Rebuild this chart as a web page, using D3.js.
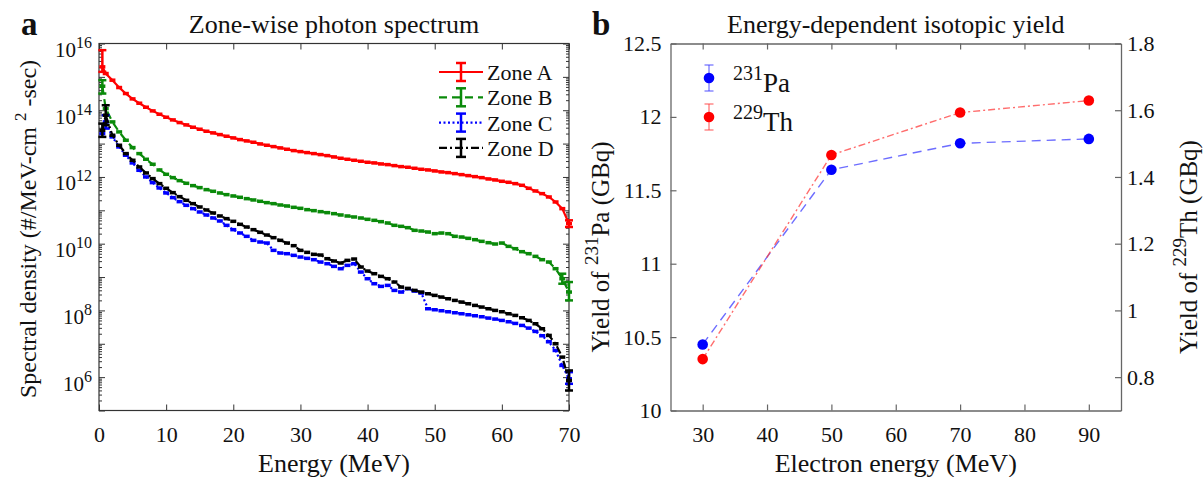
<!DOCTYPE html>
<html>
<head>
<meta charset="utf-8">
<script src="https://cdn.jsdelivr.net/npm/d3@7"></script>
<style>
  body { margin: 0; background: #fff; }
  svg text, svg tspan { font-family: "Liberation Serif", "Tinos", "Times New Roman", Times, "DejaVu Serif", serif !important; fill: #111; }
</style>
</head>
<body>
<div id="chart"></div>
<script>
/* ---------- data: panel a (log10 of spectral density) ---------- */
const energies = [0.5, 1, 2, 3, 4, 5, 6, 7, 8, 9, 10,
  11, 12, 13, 14, 15, 16, 17, 18, 19, 20,
  21, 22, 23, 24, 25, 26, 27, 28, 29, 30,
  31, 32, 33, 34, 35, 36, 37, 38, 39, 40,
  41, 42, 43, 44, 45, 46, 47, 48, 49, 50,
  51, 52, 53, 54, 55, 56, 57, 58, 59, 60,
  61, 62, 63, 64, 65, 66, 67, 68, 69, 70];

const zoneALog = [15.30, 15.10, 14.90, 14.68, 14.50, 14.34, 14.21, 14.09, 13.98, 13.88, 13.79,
  13.71, 13.63, 13.56, 13.49, 13.43, 13.37, 13.32, 13.27, 13.22, 13.17,
  13.12, 13.08, 13.04, 12.99, 12.95, 12.91, 12.87, 12.83, 12.79, 12.76,
  12.73, 12.70, 12.67, 12.64, 12.60, 12.56, 12.53, 12.50, 12.47, 12.44,
  12.42, 12.39, 12.37, 12.34, 12.31, 12.29, 12.26, 12.23, 12.21, 12.18,
  12.15, 12.13, 12.10, 12.07, 12.04, 12.01, 11.98, 11.94, 11.91, 11.87,
  11.84, 11.80, 11.75, 11.66, 11.58, 11.50, 11.40, 11.25, 11.05, 10.60];

const zoneBLog = [14.72, 14.05, 13.65, 13.35, 13.10, 12.88, 12.70, 12.53, 12.38, 12.21, 12.08,
  11.98, 11.89, 11.81, 11.74, 11.68, 11.62, 11.57, 11.52, 11.47, 11.43,
  11.39, 11.35, 11.31, 11.27, 11.23, 11.20, 11.16, 11.13, 11.09, 11.06,
  11.02, 10.99, 10.96, 10.93, 10.90, 10.86, 10.83, 10.80, 10.77, 10.73,
  10.70, 10.66, 10.62, 10.55, 10.52, 10.48, 10.40, 10.38, 10.35, 10.30,
  10.32, 10.30, 10.22, 10.20, 10.16, 10.12, 10.07, 10.03, 9.99, 10.02,
  9.92, 9.85, 9.76, 9.70, 9.62, 9.52, 9.45, 9.25, 8.95, 8.55];

const zoneCLog = [13.30, 13.65, 13.20, 12.90, 12.65, 12.42, 12.20, 12.00, 11.83, 11.67, 11.52,
  11.38, 11.26, 11.15, 11.05, 10.95, 10.86, 10.77, 10.68, 10.55, 10.42,
  10.32, 10.22, 10.10, 10.05, 10.02, 9.80, 9.72, 9.70, 9.65, 9.60,
  9.56, 9.52, 9.45, 9.40, 9.32, 9.25, 9.35, 9.40, 9.15, 8.95,
  8.80, 8.72, 8.75, 8.60, 8.55, 8.65, 8.58, 8.52, 8.05, 8.02,
  7.99, 7.96, 7.93, 7.90, 7.87, 7.84, 7.81, 7.77, 7.74, 7.70,
  7.66, 7.61, 7.55, 7.47, 7.37, 7.24, 7.06, 6.80, 6.35, 5.95];

const zoneDLog = [13.40, 13.85, 13.25, 12.95, 12.70, 12.50, 12.30, 12.12, 11.95, 11.80, 11.66,
  11.53, 11.41, 11.30, 11.20, 11.10, 11.01, 10.92, 10.83, 10.75, 10.67,
  10.58, 10.50, 10.42, 10.34, 10.26, 10.18, 10.10, 10.02, 9.94, 9.80,
  9.74, 9.68, 9.66, 9.55, 9.48, 9.42, 9.50, 9.54, 9.30, 9.18,
  9.10, 9.02, 8.95, 8.85, 8.70, 8.66, 8.60, 8.55, 8.50, 8.45,
  8.40, 8.35, 8.30, 8.25, 8.20, 8.15, 8.10, 8.05, 8.00, 7.96,
  7.90, 7.85, 7.78, 7.70, 7.60, 7.45, 7.25, 7.00, 6.60, 5.90];

// the few error bars that are visibly long: [energy, low log10, high log10]
const zoneAErr = [[0.5, 15.15, 15.80], [70, 10.50, 10.70]];
const zoneBErr = [[0.5, 14.50, 14.90], [69, 8.80, 9.10], [70, 8.30, 8.85]];
const zoneCErr = [[1, 13.45, 13.85], [70, 5.80, 6.15]];
const zoneDErr = [[0.5, 13.20, 13.60], [1, 13.55, 14.15], [70, 5.60, 6.20]];

const zoneNames = ["Zone A", "Zone B", "Zone C", "Zone D"];
const energyTicks = [0, 10, 20, 30, 40, 50, 60, 70];
const densityTickExps = [6, 8, 10, 12, 14, 16];

/* ---------- data: panel b ---------- */
const electronEnergy = [30, 50, 70, 90];
const paYield = [10.45, 11.64, 11.82, 11.85];
const paErr = [0.02, 0.02, 0.02, 0.02];
const thYield = [0.854, 1.466, 1.593, 1.629];
const thErr = [0.008, 0.008, 0.008, 0.008];
const paTicks = [10, 10.5, 11, 11.5, 12, 12.5];
const thTicks = [0.8, 1, 1.2, 1.4, 1.6, 1.8];
const electronTicks = [30, 40, 50, 60, 70, 80, 90];

/* ---------- svg ---------- */
const width = 1203, height = 477;
const serif = '"Liberation Serif", "Tinos", "Times New Roman", Times, "DejaVu Serif", serif';
const svg = d3.select("#chart").append("svg")
  .attr("width", width)
  .attr("height", height)
  .attr("font-family", serif);

const pa = { left: 99, right: 569, top: 43.5, bottom: 410.5 };
const pb = { left: 670.5, right: 1121, top: 43.5, bottom: 410.5 };

// text with superscript pieces: [[str, isSup], ...]
function richText(sel, parts, size, supSize, supShift) {
  let back = 0;
  parts.forEach(p => {
    const t = sel.append("tspan").attr("font-family", serif).text(p[0]);
    if (p[1]) {
      t.attr("font-size", supSize).attr("dy", -supShift + back);
      back = supShift;
    } else {
      t.attr("font-size", size).attr("dy", back);
      back = 0;
    }
  });
  return sel;
}

/* ======================= panel a ======================= */
const xA = d3.scaleLinear().domain([0, 70]).range([pa.left, pa.right]);
const yA = d3.scaleLog().domain([1e5, 1e16]).range([pa.bottom, pa.top]);

const gA = svg.append("g");
const axisColor = "#333";

// ticks: major decades + minor
const decades = d3.range(5, 17).map(k => Math.pow(10, k));
let minors = [];
d3.range(5, 16).forEach(k => { for (let m = 2; m <= 9; m++) minors.push(m * Math.pow(10, k)); });

function styleAxis(g) {
  g.attr("font-family", serif);
  g.select(".domain").remove();
  g.selectAll(".tick line").attr("stroke", axisColor).attr("stroke-width", 1);
}

gA.append("g").attr("transform", `translate(0,${pa.bottom})`)
  .call(d3.axisBottom(xA).tickValues(energyTicks).tickSize(-6).tickSizeOuter(0).tickPadding(16).tickFormat(d3.format("d")))
  .call(styleAxis)
  .call(g => g.selectAll("text").attr("font-size", 22).attr("fill", "#111"));
gA.append("g").attr("transform", `translate(0,${pa.top})`)
  .call(d3.axisTop(xA).tickValues(energyTicks).tickSize(-6).tickSizeOuter(0).tickFormat(""))
  .call(styleAxis);

[["left", pa.left, d3.axisLeft], ["right", pa.right, d3.axisRight]].forEach(([side, xPos, ax]) => {
  gA.append("g").attr("transform", `translate(${xPos},0)`)
    .call(ax(yA).tickValues(decades).tickSize(-6).tickSizeOuter(0).tickFormat(""))
    .call(styleAxis);
  gA.append("g").attr("transform", `translate(${xPos},0)`)
    .call(ax(yA).tickValues(minors).tickSize(-3).tickSizeOuter(0).tickFormat(""))
    .call(styleAxis);
});

gA.append("rect")
  .attr("x", pa.left).attr("y", pa.top)
  .attr("width", pa.right - pa.left).attr("height", pa.bottom - pa.top)
  .attr("fill", "none").attr("stroke", axisColor).attr("stroke-width", 1.2);

// log tick labels 10^n
densityTickExps.forEach(e => {
  const t = gA.append("text")
    .attr("x", pa.left - 7)
    .attr("y", yA(Math.pow(10, e)) + 13.5)
    .attr("text-anchor", "end");
  t.append("tspan").attr("font-size", 21).text("10");
  t.append("tspan").attr("font-size", 16).attr("dy", -9).text(e);
});

const zones = [
  { name: zoneNames[0], vals: zoneALog, err: zoneAErr, color: "#ff0000", dash: null },
  { name: zoneNames[1], vals: zoneBLog, err: zoneBErr, color: "#0a8a0a", dash: "8,5" },
  { name: zoneNames[2], vals: zoneCLog, err: zoneCErr, color: "#0000ff", dash: "2,2.5" },
  { name: zoneNames[3], vals: zoneDLog, err: zoneDErr, color: "#000000", dash: "8,3,2,3" }
];

const lineA = d3.line()
  .x((d, i) => xA(energies[i]))
  .y(d => yA(Math.pow(10, d)));

const capW = 3;
zones.forEach(z => {
  const g = gA.append("g");
  g.append("path")
    .attr("d", lineA(z.vals))
    .attr("fill", "none")
    .attr("stroke", z.color)
    .attr("stroke-width", 2.2)
    .attr("stroke-dasharray", z.dash);
  // the small error bar caps at every point (give the stair look)
  g.selectAll(".cap")
    .data(z.vals)
    .enter()
    .append("line")
    .attr("class", "cap")
    .attr("x1", (d, i) => xA(energies[i]) - capW)
    .attr("x2", (d, i) => xA(energies[i]) + capW)
    .attr("y1", d => yA(Math.pow(10, d)))
    .attr("y2", d => yA(Math.pow(10, d)))
    .attr("stroke", z.color)
    .attr("stroke-width", 3.5);
  // long error bars
  z.err.forEach(e => {
    const x = xA(e[0]), y1 = yA(Math.pow(10, e[1])), y2 = yA(Math.pow(10, e[2]));
    g.append("line").attr("x1", x).attr("x2", x).attr("y1", y1).attr("y2", y2)
      .attr("stroke", z.color).attr("stroke-width", 2.5);
    [y1, y2].forEach(yy => g.append("line")
      .attr("x1", x - 4).attr("x2", x + 4).attr("y1", yy).attr("y2", yy)
      .attr("stroke", z.color).attr("stroke-width", 2.5));
  });
});

// legend a
zones.forEach((z, i) => {
  const ly = 72 + i * 25.3;
  const g = gA.append("g");
  g.append("line").attr("x1", 439).attr("x2", 483).attr("y1", ly).attr("y2", ly)
    .attr("stroke", z.color).attr("stroke-width", 2.2).attr("stroke-dasharray", z.dash);
  g.append("line").attr("x1", 461).attr("x2", 461).attr("y1", ly - 9).attr("y2", ly + 9)
    .attr("stroke", z.color).attr("stroke-width", 2.5);
  [ly - 9, ly + 9].forEach(yy => g.append("line")
    .attr("x1", 456).attr("x2", 466).attr("y1", yy).attr("y2", yy)
    .attr("stroke", z.color).attr("stroke-width", 2.5));
  g.append("text").attr("x", 487).attr("y", ly + 8).attr("font-size", 22).text(z.name);
});

// titles and labels a
svg.append("text").attr("x", (pa.left + pa.right) / 2).attr("y", 33)
  .attr("text-anchor", "middle").attr("font-size", 26).text("Zone-wise photon spectrum");
svg.append("text").attr("x", 21).attr("y", 35)
  .attr("font-size", 33).attr("font-weight", "bold").text("a");
svg.append("text").attr("x", (pa.left + pa.right) / 2).attr("y", 472)
  .attr("text-anchor", "middle").attr("font-size", 26).text("Energy (MeV)");
richText(svg.append("text")
  .attr("transform", `translate(36,${(pa.top + pa.bottom) / 2 + 2}) rotate(-90)`)
  .attr("text-anchor", "middle"),
  [["Spectral density (#/MeV-cm ", false], ["2", true], [" -sec)", false]], 24, 17, 10);

/* ======================= panel b ======================= */
const xB = d3.scaleLinear().domain([25, 95]).range([pb.left, pb.right]);
const yPa = d3.scaleLinear().domain([10, 12.5]).range([pb.bottom, pb.top]);
const yTh = d3.scaleLinear().domain([0.7, 1.8]).range([pb.bottom, pb.top]);
const axisColorB = "#666";

const gB = svg.append("g");
function styleAxisB(g) {
  g.attr("font-family", serif);
  g.select(".domain").attr("stroke", axisColorB).attr("stroke-width", 1.3);
  g.selectAll(".tick line").attr("stroke", axisColorB).attr("stroke-width", 1.2);
  g.selectAll("text").attr("font-size", 22).attr("fill", "#111");
}
gB.append("g").attr("transform", `translate(0,${pb.bottom})`)
  .call(d3.axisBottom(xB).tickValues(electronTicks).tickSize(-6).tickSizeOuter(0).tickPadding(16))
  .call(styleAxisB);
gB.append("g").attr("transform", `translate(0,${pb.top})`)
  .call(d3.axisTop(xB).tickValues(electronTicks).tickSize(-6).tickSizeOuter(0).tickFormat(""))
  .call(styleAxisB);
gB.append("g").attr("transform", `translate(${pb.left},0)`)
  .call(d3.axisLeft(yPa).tickValues(paTicks).tickSize(-6).tickSizeOuter(0).tickPadding(9).tickFormat(d => d3.format("")(d)))
  .call(styleAxisB);
gB.append("g").attr("transform", `translate(${pb.right},0)`)
  .call(d3.axisRight(yTh).tickValues(thTicks).tickSize(-6).tickSizeOuter(0).tickPadding(6).tickFormat(d => d3.format("")(d)))
  .call(styleAxisB);

const lineB = (yScale) => d3.line().x((d, i) => xB(electronEnergy[i])).y(d => yScale(d));

const isotopes = [
  { vals: paYield, err: paErr, y: yPa, color: "#0000ff", line: "rgba(60,60,255,0.75)", dash: "9,6" },
  { vals: thYield, err: thErr, y: yTh, color: "#ff0000", line: "rgba(255,60,60,0.75)", dash: "7,3,2,3" }
];

isotopes.forEach(s => {
  const g = gB.append("g");
  g.append("path").attr("d", lineB(s.y)(s.vals))
    .attr("fill", "none").attr("stroke", s.line).attr("stroke-width", 1.4).attr("stroke-dasharray", s.dash);
  g.selectAll(".eb").data(s.vals).enter().append("line")
    .attr("x1", (d, i) => xB(electronEnergy[i])).attr("x2", (d, i) => xB(electronEnergy[i]))
    .attr("y1", (d, i) => s.y(d - s.err[i])).attr("y2", (d, i) => s.y(d + s.err[i]))
    .attr("stroke", s.line).attr("stroke-width", 1);
  g.selectAll("circle").data(s.vals).enter().append("circle")
    .attr("cx", (d, i) => xB(electronEnergy[i])).attr("cy", d => s.y(d))
    .attr("r", 5.3).attr("fill", s.color);
});

// legend b
[
  { y: 78, color: "#0000ff", line: "rgba(60,60,255,0.75)", parts: [["231", true], ["Pa", false]] },
  { y: 117, color: "#ff0000", line: "rgba(255,60,60,0.75)", parts: [["229", true], ["Th", false]] }
].forEach(l => {
  const g = gB.append("g");
  g.append("line").attr("x1", 709).attr("x2", 709).attr("y1", l.y - 13).attr("y2", l.y + 13)
    .attr("stroke", l.line).attr("stroke-width", 1.2);
  [l.y - 13, l.y + 13].forEach(yy => g.append("line")
    .attr("x1", 704.5).attr("x2", 713.5).attr("y1", yy).attr("y2", yy)
    .attr("stroke", l.line).attr("stroke-width", 1.2));
  g.append("circle").attr("cx", 709).attr("cy", l.y).attr("r", 5.3).attr("fill", l.color);
  const t = g.append("text").attr("x", 733).attr("y", l.y + 14);
  t.append("tspan").attr("font-size", 20).attr("dy", -12).text(l.parts[0][0]);
  t.append("tspan").attr("font-size", 27).attr("dy", 12).text(l.parts[1][0]);
});

// titles and labels b
svg.append("text").attr("x", (pb.left + pb.right) / 2).attr("y", 33)
  .attr("text-anchor", "middle").attr("font-size", 26).text("Energy-dependent isotopic yield");
svg.append("text").attr("x", 592).attr("y", 35)
  .attr("font-size", 33).attr("font-weight", "bold").text("b");
svg.append("text").attr("x", (pb.left + pb.right) / 2).attr("y", 472)
  .attr("text-anchor", "middle").attr("font-size", 26).text("Electron energy (MeV)");
richText(svg.append("text")
  .attr("transform", `translate(609,${(pb.top + pb.bottom) / 2 + 20}) rotate(-90)`)
  .attr("text-anchor", "middle"),
  [["Yield of ", false], ["231", true], ["Pa (GBq)", false]], 25, 19, 11);
richText(svg.append("text")
  .attr("transform", `translate(1197,${(pb.top + pb.bottom) / 2 + 20}) rotate(-90)`)
  .attr("text-anchor", "middle"),
  [["Yield of ", false], ["229", true], ["Th (GBq)", false]], 25, 19, 11);
</script>
</body>
</html>
